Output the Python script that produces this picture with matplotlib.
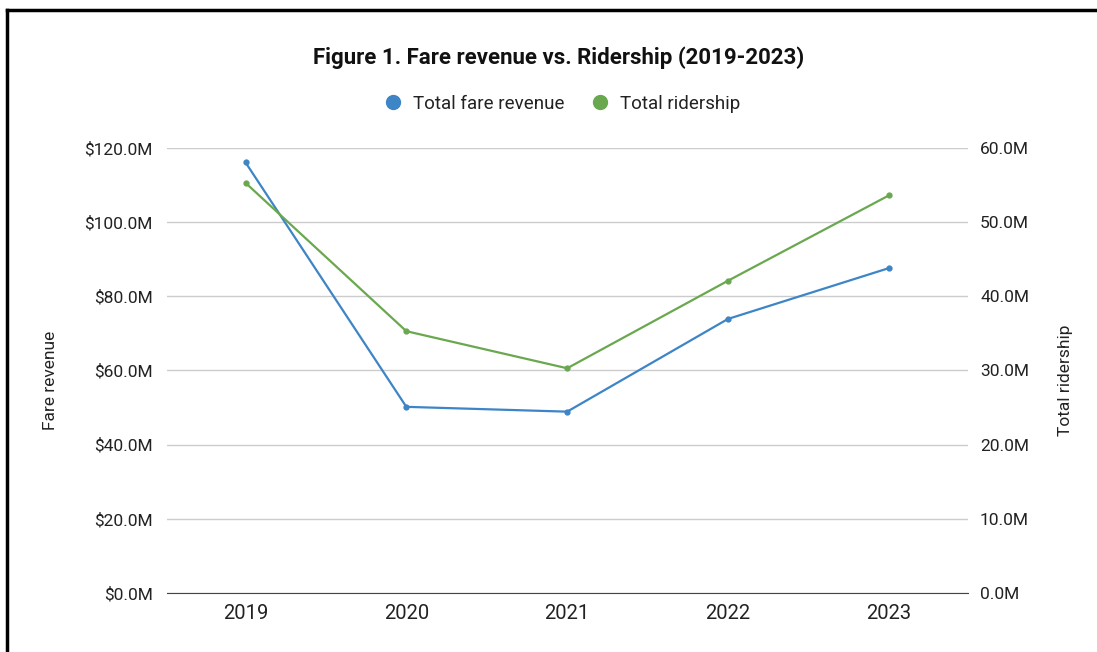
import matplotlib.pyplot as plt
from matplotlib.lines import Line2D
from matplotlib.ticker import FuncFormatter, MultipleLocator

# values in millions
years = ['2019', '2020', '2021', '2022', '2023']
fare_revenue = [116.1, 50.2, 48.9, 73.9, 87.6]
ridership = [55.3, 35.3, 30.3, 42.1, 53.6]

blue = '#3d85c6'
green = '#6aa84f'

plt.rcParams['font.family'] = ['Roboto', 'DejaVu Sans']

fig = plt.figure(figsize=(10.97, 6.52), dpi=100)
ax = fig.add_axes([0.152, 0.0905, 0.730, 0.6825])
ax2 = ax.twinx()

x = range(len(years))
ax.plot(x, fare_revenue, color=blue, lw=1.6, marker='o', ms=3.5, zorder=3)
ax2.plot(x, ridership, color=green, lw=1.6, marker='o', ms=3.5, zorder=3)

ax.set_xlim(-0.49, 4.49)
ax.set_ylim(0, 120)
ax2.set_ylim(0, 60)
ax.yaxis.set_major_locator(MultipleLocator(20))
ax2.yaxis.set_major_locator(MultipleLocator(10))
ax.yaxis.set_major_formatter(FuncFormatter(lambda v, p: f'${v:.1f}M'))
ax2.yaxis.set_major_formatter(FuncFormatter(lambda v, p: f'{v:.1f}M'))
ax.set_xticks(list(x))
ax.set_xticklabels(years)

ax.grid(axis='y', color='#cccccc', lw=1)
ax.set_axisbelow(True)
for a in (ax, ax2):
    for s in a.spines.values():
        s.set_visible(False)
    a.tick_params(length=0, labelsize=12.5, colors='#222222')
ax.spines['bottom'].set_visible(True)
ax.spines['bottom'].set_color('#444444')
ax.tick_params(axis='y', pad=10)
ax2.tick_params(axis='y', pad=9)
ax.tick_params(axis='x', pad=8, labelsize=14.5)

fig.text(0.046, 0.417, 'Fare revenue', rotation=90, ha='center', va='center',
         fontsize=12.5, color='#222222')
fig.text(0.971, 0.417, 'Total ridership', rotation=90, ha='center', va='center',
         fontsize=12.5, color='#222222')

fig.text(0.509, 0.911, 'Figure 1. Fare revenue vs. Ridership (2019-2023)',
         ha='center', va='center', fontsize=16, fontweight='bold', color='#111111')

handles = [Line2D([], [], ls='', marker='o', ms=10, color=blue),
           Line2D([], [], ls='', marker='o', ms=10, color=green)]
fig.legend(handles, ['Total fare revenue', 'Total ridership'], loc='center',
           bbox_to_anchor=(0.508, 0.841), ncol=2, frameon=False, fontsize=13.5,
           handletextpad=0.05, columnspacing=0.9, labelcolor='#222222')

# black frame on the left and top edges
fig.add_artist(Line2D([0.0064, 0.0064], [0, 0.985], color='black', lw=2.5,
                      transform=fig.transFigure))
fig.add_artist(Line2D([0.0064, 1.0], [0.985, 0.985], color='black', lw=2.5,
                      transform=fig.transFigure))

fig.savefig('out.png', dpi=100)
